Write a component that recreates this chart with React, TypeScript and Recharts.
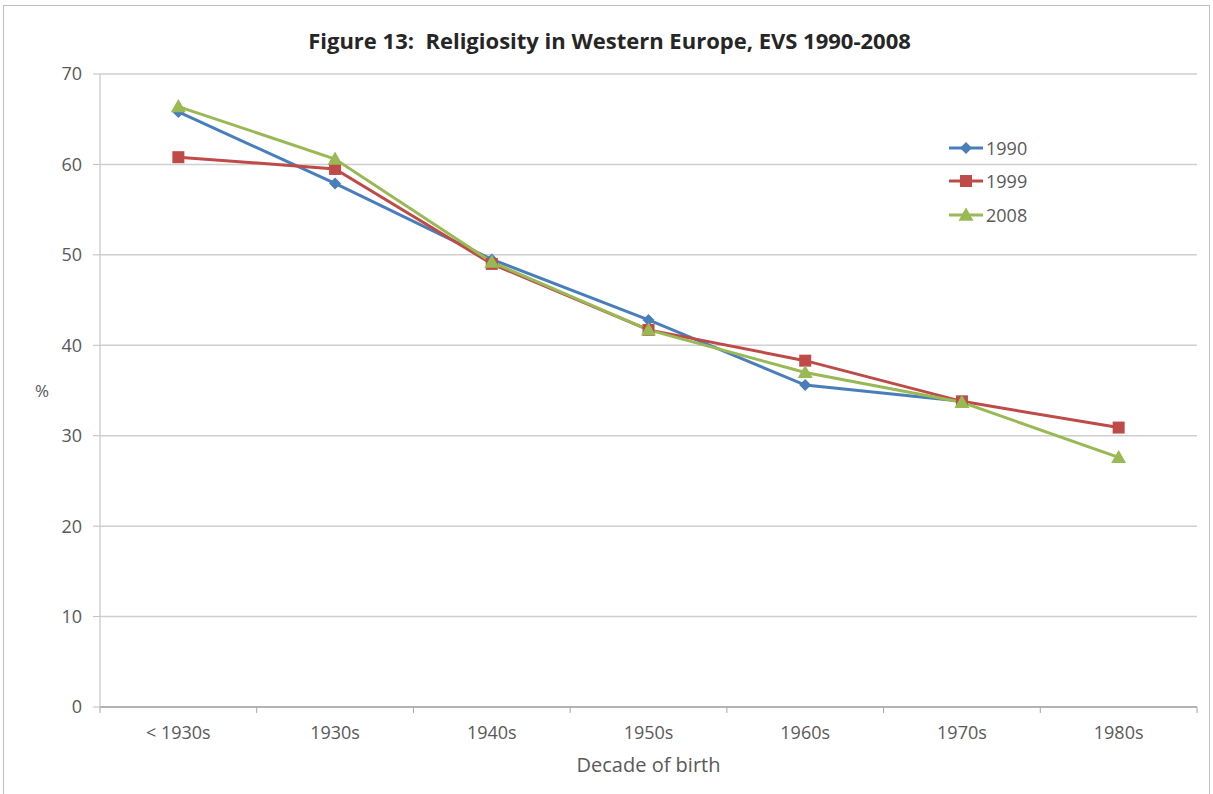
import React from 'react';
import {
  LineChart,
  Line,
  XAxis,
  YAxis,
  CartesianGrid,
  Legend,
} from 'recharts';

const decades = ['< 1930s', '1930s', '1940s', '1950s', '1960s', '1970s', '1980s'];
const wave1990 = [65.8, 57.9, 49.5, 42.8, 35.6, 33.8, null];
const wave1999 = [60.8, 59.5, 49.0, 41.7, 38.3, 33.8, 30.9];
const wave2008 = [66.4, 60.6, 49.2, 41.7, 37.0, 33.7, 27.6];
const yTicks = [0, 10, 20, 30, 40, 50, 60, 70];

const FONT = '"Liberation Sans Narrow", "Open Sans", Arial, sans-serif';
const TEXT = '#595959';

const SERIES = [
  { key: 'y1990', name: '1990', color: '#4A7EBB', shape: 'diamond' },
  { key: 'y1999', name: '1999', color: '#BE4B48', shape: 'square' },
  { key: 'y2008', name: '2008', color: '#98B954', shape: 'triangle' },
];

const W = 1213;
const H = 794;
const MARGIN = { top: 74, right: 16, bottom: 0, left: 30 };
const Y_AXIS_W = 70;
const X_AXIS_H = 87;
const PLOT_W = W - MARGIN.left - Y_AXIS_W - MARGIN.right;
const BAND = PLOT_W / decades.length;
const X_TICK_SIZE = 6;
const X_TICK_MARGIN = 13;

function Marker({ cx, cy, shape, color }: { cx: number; cy: number; shape: string; color: string }) {
  if (cx == null || cy == null) return null;
  if (shape === 'diamond') {
    const r = 6;
    return <polygon points={`${cx},${cy - r} ${cx + r},${cy} ${cx},${cy + r} ${cx - r},${cy}`} fill={color} />;
  }
  if (shape === 'square') {
    const r = 6;
    return <rect x={cx - r} y={cy - r} width={r * 2} height={r * 2} fill={color} />;
  }
  const r = 7.5;
  return <polygon points={`${cx},${cy - r} ${cx + r},${cy + r * 0.75} ${cx - r},${cy + r * 0.75}`} fill={color} />;
}

// category label at the band centre, tick mark on the band boundary
function DecadeTick(props: any) {
  const { x, y, payload, index } = props;
  const axisY = y - X_TICK_SIZE - X_TICK_MARGIN;
  const left = x - BAND / 2;
  return (
    <g>
      <line x1={left} x2={left} y1={axisY} y2={axisY + X_TICK_SIZE} stroke="#a6a6a6" />
      {index === decades.length - 1 && (
        <line x1={x + BAND / 2} x2={x + BAND / 2} y1={axisY} y2={axisY + X_TICK_SIZE} stroke="#a6a6a6" />
      )}
      <text x={x} y={y} dy="0.71em" textAnchor="middle" fill={TEXT} fontSize={18} fontFamily={FONT}>
        {payload.value}
      </text>
    </g>
  );
}

function LegendBox() {
  return (
    <div style={{ fontFamily: FONT, fontSize: 18, color: TEXT }}>
      {SERIES.map((s) => (
        <div key={s.key} style={{ display: 'flex', alignItems: 'center', height: 33.5 }}>
          <svg width={36} height={20} style={{ marginRight: 2 }}>
            <line x1={1} x2={35} y1={10} y2={10} stroke={s.color} strokeWidth={3} />
            <Marker cx={18} cy={10} shape={s.shape} color={s.color} />
          </svg>
          <span>{s.name}</span>
        </div>
      ))}
    </div>
  );
}

export default function App() {
  const data = decades.map((d, i) => ({
    decade: d,
    y1990: wave1990[i],
    y1999: wave1999[i],
    y2008: wave2008[i],
  }));

  return (
    <div
      style={{
        position: 'absolute',
        left: 0,
        top: 0,
        width: W,
        height: H,
        overflow: 'hidden',
        background: '#fff',
      }}
    >
      <div
        style={{
          position: 'absolute',
          left: 3,
          top: 5,
          width: 1205,
          height: 820,
          border: '1.5px solid #bfbfbf',
        }}
      />
      <div
        style={{
          position: 'absolute',
          left: 0,
          width: 1219,
          top: 25,
          textAlign: 'center',
          fontFamily: FONT,
          fontWeight: 'bold',
          fontSize: 22,
          color: '#262626',
        }}
      >
        Figure 13:&nbsp; Religiosity in Western Europe, EVS 1990-2008
      </div>
      <LineChart width={W} height={H} data={data} margin={MARGIN}>
        <CartesianGrid vertical={false} stroke="#cfcfcf" strokeWidth={1.5} />
        <XAxis
          dataKey="decade"
          height={X_AXIS_H}
          padding={{ left: BAND / 2, right: BAND / 2 }}
          tickLine={false}
          tickSize={X_TICK_SIZE}
          tickMargin={X_TICK_MARGIN}
          axisLine={{ stroke: '#a6a6a6', strokeWidth: 1.5 }}
          tick={<DecadeTick />}
          interval={0}
          label={{
            value: 'Decade of birth',
            position: 'insideBottom',
            offset: 22,
            fill: TEXT,
            fontSize: 20,
            fontFamily: FONT,
          }}
        />
        <YAxis
          width={Y_AXIS_W}
          domain={[0, 70]}
          ticks={yTicks}
          interval={0}
          tickSize={7}
          tickMargin={11}
          tickLine={{ stroke: '#bfbfbf' }}
          axisLine={{ stroke: '#d0d0d0', strokeWidth: 1.5 }}
          tick={{ fill: TEXT, fontSize: 18, fontFamily: FONT }}
          label={{
            value: '%',
            position: 'insideLeft',
            offset: 5,
            fill: TEXT,
            fontSize: 17,
            fontFamily: FONT,
          }}
        />
        {/* horizontal + middle keeps the legend from reserving plot space */}
        <Legend
          layout="horizontal"
          verticalAlign="middle"
          align="center"
          content={<LegendBox />}
          wrapperStyle={{ position: 'absolute', left: 948, top: 131, width: 110 }}
        />
        {SERIES.map((s) => (
          <Line
            key={s.key}
            dataKey={s.key}
            name={s.name}
            stroke={s.color}
            strokeWidth={3}
            connectNulls={false}
            isAnimationActive={false}
            dot={(p: any) => <Marker key={`${s.key}-${p.index}`} cx={p.cx} cy={p.cy} shape={s.shape} color={s.color} />}
            activeDot={false}
          />
        ))}
      </LineChart>
    </div>
  );
}
